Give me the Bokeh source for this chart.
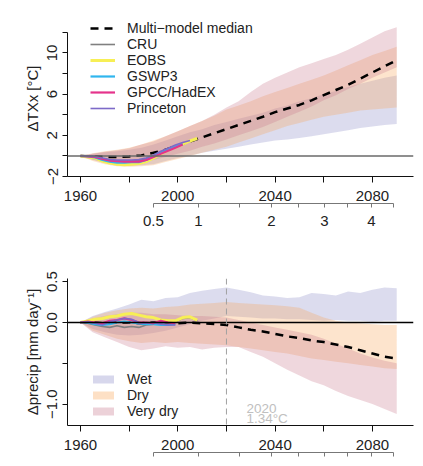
from bokeh.plotting import figure
from bokeh.models import (Range1d, Span, Label, Legend, LegendItem, FixedTicker,
                          LinearAxis, CustomJSTickFormatter)
from bokeh.layouts import column
from bokeh.embed import file_html
from bokeh.resources import INLINE

FONT = "Liberation Sans"

# ---------------- data ----------------
years = list(range(1960, 2091, 5))

# panel (a): TXx change [°C]
median_a = [0.0, -0.05, -0.1, -0.1, -0.05, 0.05, 0.3, 0.6, 1.0, 1.4, 1.8, 2.2, 2.6, 3.0, 3.4,
            3.8, 4.25, 4.6, 4.95, 5.4, 5.9, 6.4, 6.9, 7.5, 8.1, 8.7, 9.3]
wet_lo_a = [0, -0.4, -0.7, -0.9, -0.95, -0.9, -0.8, -0.5, -0.2, 0.05, 0.3, 0.5, 0.7, 0.9, 1.1,
            1.3, 1.5, 1.6, 1.75, 1.9, 2.1, 2.3, 2.5, 2.7, 2.85, 3.0, 3.1]
wet_hi_a = [0, 0.2, 0.35, 0.45, 0.6, 0.8, 1.1, 1.5, 1.9, 2.3, 2.6, 3.0, 3.3, 3.6, 3.9,
            4.2, 4.6, 4.9, 5.3, 5.6, 6.0, 6.3, 6.7, 7.0, 7.3, 7.6, 7.8]
dry_lo_a = [0, -0.5, -0.8, -1.0, -1.05, -1.0, -0.9, -0.6, -0.3, 0.0, 0.3, 0.6, 0.9, 1.3, 1.7,
            2.1, 2.5, 2.9, 3.2, 3.5, 3.8, 4.0, 4.2, 4.4, 4.5, 4.6, 4.7]
dry_hi_a = [0, 0.25, 0.45, 0.6, 0.8, 1.1, 1.5, 1.9, 2.4, 2.9, 3.4, 3.9, 4.5, 4.9, 5.3,
            5.8, 6.2, 6.6, 7.0, 7.4, 7.8, 8.3, 8.8, 9.3, 9.8, 10.2, 10.6]
vdry_lo_a = [0, -0.35, -0.6, -0.75, -0.8, -0.7, -0.4, -0.1, 0.2, 0.5, 0.9, 1.2, 1.6, 2.0, 2.4,
             2.8, 3.3, 3.8, 4.3, 4.8, 5.4, 5.9, 6.5, 7.0, 7.6, 8.1, 8.6]
vdry_hi_a = [0, 0.2, 0.4, 0.55, 0.75, 1.1, 1.4, 1.9, 2.4, 2.9, 3.4, 4.0, 4.7, 5.3, 6.2,
             7.0, 7.6, 8.1, 8.6, 9.0, 9.4, 9.8, 10.3, 10.9, 11.5, 12.1, 12.5]

# panel (b): precipitation change [mm/day]
median_b = [0, 0, -0.01, 0.0, 0.0, -0.01, 0.0, 0.0, -0.01, 0.0, -0.01, -0.02, -0.03, -0.06, -0.09,
            -0.11, -0.14, -0.17, -0.19, -0.22, -0.24, -0.27, -0.3, -0.34, -0.38, -0.42, -0.44]
wet_hi_b = [0, 0.08, 0.13, 0.17, 0.22, 0.28, 0.26, 0.3, 0.31, 0.36, 0.39, 0.41, 0.43, 0.4, 0.37,
            0.33, 0.32, 0.3, 0.31, 0.36, 0.35, 0.33, 0.38, 0.36, 0.4, 0.43, 0.42]
wet_lo_b = [0, -0.08, -0.12, -0.15, -0.16, -0.15, -0.13, -0.1, -0.06, -0.02, 0.02, 0.05, 0.08, 0.07, 0.06,
            0.05, 0.05, 0.04, 0.04, 0.03, 0.02, 0.03, 0.02, 0.02, 0.01, 0.02, 0.02]
dry_hi_b = [0, 0.07, 0.12, 0.15, 0.17, 0.18, 0.17, 0.19, 0.2, 0.22, 0.23, 0.24, 0.25, 0.24, 0.23,
            0.22, 0.21, 0.2, 0.18, 0.12, 0.06, 0.02, 0.0, -0.01, -0.02, -0.03, -0.03]
dry_lo_b = [0, -0.1, -0.15, -0.2, -0.23, -0.25, -0.24, -0.25, -0.24, -0.25, -0.26, -0.27, -0.28, -0.3, -0.32,
            -0.34, -0.36, -0.38, -0.41, -0.44, -0.46, -0.48, -0.5, -0.52, -0.54, -0.56, -0.57]
vdry_hi_b = [0, 0.05, 0.08, 0.1, 0.12, 0.12, 0.1, 0.1, 0.09, 0.08, 0.08, 0.07, 0.06, 0.03, 0.0,
             -0.03, -0.06, -0.09, -0.12, -0.15, -0.2, -0.26, -0.32, -0.38, -0.43, -0.47, -0.5]
vdry_lo_b = [0, -0.12, -0.18, -0.24, -0.3, -0.34, -0.32, -0.29, -0.31, -0.3, -0.33, -0.31, -0.3, -0.3, -0.36,
             -0.42, -0.5, -0.58, -0.65, -0.72, -0.77, -0.84, -0.9, -0.95, -1.0, -1.06, -1.12]

# observations
obs_years = [1960, 1963, 1966, 1969, 1972, 1975, 1978, 1981, 1984, 1987, 1990, 1993, 1996, 1999, 2002, 2005, 2008]
obs_a = {
    "CRU":        [0, -0.05, -0.1, -0.3, -0.4, -0.5, -0.5, -0.5, -0.45, -0.3, 0.0, 0.35, 0.65, 0.95, 1.2, 1.45, 1.6],
    "EOBS":       [0, -0.1, -0.2, -0.5, -0.7, -0.8, -0.85, -0.8, -0.75, -0.55, -0.2, 0.2, 0.55, 0.85, 1.15, 1.45, 1.7],
    "GSWP3":      [0, -0.05, -0.15, -0.4, -0.55, -0.65, -0.65, -0.6, -0.6, -0.4, -0.05, 0.3, 0.6, 0.9, 1.15],
    "GPCC/HadEX": [0, -0.05, -0.1, -0.3, -0.45, -0.5, -0.55, -0.55, -0.55, -0.4, -0.1, 0.2, 0.5, 0.8, 1.1],
    "Princeton":  [0, 0, -0.05, -0.2, -0.35, -0.4, -0.4, -0.4, -0.35, -0.2, 0.1, 0.45, 0.75, 1.05, 1.3, 1.5],
}
obs_b = {
    "CRU":        [0, -0.01, -0.03, -0.05, -0.06, -0.04, -0.06, -0.05, -0.06, -0.03, -0.02, -0.01, 0.0, 0.01, 0.05, 0.06, 0.02],
    "EOBS":       [0, 0.02, 0.04, 0.05, 0.07, 0.08, 0.1, 0.11, 0.09, 0.07, 0.06, 0.03, 0.02, 0.02, 0.06, 0.07, 0.03],
    "GSWP3":      [0, 0.0, -0.02, -0.03, -0.02, 0.0, 0.01, 0.0, -0.01, -0.02, -0.02, -0.03, -0.03, -0.02],
    "GPCC/HadEX": [0, 0.01, 0.0, -0.01, 0.02, 0.03, 0.05, 0.03, 0.0, 0.0, -0.01, 0.02, 0.0, -0.01],
    "Princeton":  [0, 0.01, -0.01, -0.03, 0.01, 0.03, 0.05, 0.04, 0.0, -0.01, 0.0, -0.02, -0.03, -0.03],
}
obs_colors = {"CRU": "#808080", "EOBS": "#f7ef55", "GSWP3": "#2fb6ee",
              "GPCC/HadEX": "#e5338b", "Princeton": "#7d6ac8"}
obs_widths = {"CRU": 1.6, "EOBS": 3.0, "GSWP3": 2.2, "GPCC/HadEX": 2.2, "Princeton": 1.6}

band_names = ["Wet", "Dry", "Very dry"]
band_colors = {"Wet": "#8c8cc8", "Dry": "#f9a55a", "Very dry": "#c97a8f"}
BAND_ALPHA = 0.3

# axis ticks
year_ticks = [1960, 1980, 2000, 2020, 2040, 2060, 2080]
year_labels = ["1960", "", "2000", "", "2040", "", "2080"]
tglob_years = [1990.0, 2008.5, 2025.3, 2038.5, 2049.6, 2060.3, 2069.7, 2079.6, 2088.6]
tglob_labels = ["0.5", "1", "", "2", "", "3", "", "4", ""]
ya_ticks = [-2, 0, 2, 4, 6, 8, 10, 12]
ya_labels = ["\u22122", "", "2", "", "6", "", "10", ""]
yb_ticks = [-1.0, -0.5, 0.0, 0.5]
yb_labels = ["\u22121.0", "", "0.0", "0.5"]

X0, X1 = 1954.66, 2096.9


def fmt(tick_vals, tick_labels):
    return CustomJSTickFormatter(args=dict(tv=tick_vals, tl=tick_labels), code="""
        let best = -1, bd = 1e9;
        for (let i = 0; i < tv.length; i++) {
            const d = Math.abs(tv[i] - tick);
            if (d < bd) { bd = d; best = i; }
        }
        return (best >= 0 && bd < 1e-6) ? tl[best] : "";
    """)


def clear_bg(ax):
    props = ax.properties()
    if "background_fill_color" in props:
        ax.background_fill_color = None
    if "background_fill_alpha" in props:
        ax.background_fill_alpha = 0


def base_axes(p, yticks, ylabels, ylabel):
    p.xgrid.visible = False
    p.ygrid.visible = False
    p.outline_line_color = None
    xa = p.xaxis[0]
    xa.ticker = FixedTicker(ticks=year_ticks)
    xa.formatter = fmt(year_ticks, year_labels)
    xa.major_tick_out = 6
    xa.major_tick_in = 0
    xa.minor_tick_line_color = None
    xa.major_label_standoff = 8
    xa.major_label_text_font = FONT
    xa.major_label_text_font_size = "15px"
    xa.major_label_text_color = "#222222"
    xa.axis_line_color = "#111111"
    xa.major_tick_line_color = "#111111"
    clear_bg(xa)
    ya = p.yaxis[0]
    ya.ticker = FixedTicker(ticks=yticks)
    ya.formatter = fmt(yticks, ylabels)
    ya.major_tick_out = 5
    ya.major_tick_in = 0
    ya.minor_tick_line_color = None
    ya.major_label_orientation = "vertical"
    ya.major_label_standoff = 5
    ya.major_label_text_font = FONT
    ya.major_label_text_font_size = "15px"
    ya.major_label_text_color = "#222222"
    ya.axis_line_color = "#111111"
    ya.major_tick_line_color = "#111111"
    ya.axis_label = ylabel
    ya.axis_label_text_font = FONT
    ya.axis_label_text_font_size = "15px"
    ya.axis_label_text_font_style = "normal"
    ya.axis_label_text_color = "#222222"
    ya.axis_label_standoff = 4
    clear_bg(ya)


def tglob_axis(p, show_labels=True):
    ax = LinearAxis(ticker=FixedTicker(ticks=tglob_years),
                    formatter=fmt(tglob_years, tglob_labels if show_labels else [""] * len(tglob_labels)),
                    bounds=(tglob_years[0], tglob_years[-1]))
    ax.major_tick_out = 4
    ax.major_tick_in = 0
    ax.minor_tick_line_color = None
    ax.axis_line_color = "#777777"
    ax.major_tick_line_color = "#777777"
    ax.major_label_text_font = FONT
    ax.major_label_text_font_size = "15px" if show_labels else "1px"
    ax.major_label_standoff = 8 if show_labels else 0
    ax.major_label_text_color = "#222222"
    clear_bg(ax)
    p.add_layout(ax, "below")


def bands(p, lo_hi):
    for name in band_names:
        lo, hi = lo_hi[name]
        p.varea(x=years, y1=lo, y2=hi, fill_color=band_colors[name], fill_alpha=BAND_ALPHA)


# ---------------- panel (a) ----------------
pa = figure(width=423, height=240, x_range=Range1d(X0, X1), y_range=Range1d(-2, 13.15),
            output_backend="svg", toolbar_location=None,
            min_border_left=67, min_border_right=10, min_border_top=20, min_border_bottom=64)
base_axes(pa, ya_ticks, ya_labels, "\u0394TXx [\u00b0C]")
pa.yaxis[0].bounds = (-2, 12)
tglob_axis(pa, True)

bands(pa, {"Wet": (wet_lo_a, wet_hi_a), "Dry": (dry_lo_a, dry_hi_a), "Very dry": (vdry_lo_a, vdry_hi_a)})
pa.add_layout(Span(location=0, dimension="width", line_color="#6a6a6a", line_width=1.5))
med_a = pa.line(years, median_a, line_color="black", line_width=2.5, line_dash="8 6")
items = [LegendItem(label="Multi\u2212model median", renderers=[med_a])]
for name, vals in obs_a.items():
    r = pa.line(obs_years[:len(vals)], vals, line_color=obs_colors[name], line_width=obs_widths[name])
    items.append(LegendItem(label=name, renderers=[r]))
leg_a = Legend(items=items, location=(23, 60), label_text_font=FONT, label_text_font_size="14px",
               label_text_color="#222222", label_height=16, glyph_height=16, glyph_width=25,
               spacing=0, padding=0, margin=0, label_standoff=12,
               background_fill_alpha=0, border_line_color=None)
pa.add_layout(leg_a)
pa.add_layout(Label(x=1943.6, y=13.92, text="(a)", text_font=FONT, text_font_size="15px",
                    text_font_style="bold", text_baseline="middle", text_color="#111111"))
pa.add_layout(Label(x=2087.4, y=-6.56, text="Tglob", level="overlay",
                    text_font=FONT, text_font_size="13px",
                    text_baseline="middle", text_color="#222222"))

# ---------------- panel (b) ----------------
pb = figure(width=423, height=226, x_range=Range1d(X0, X1), y_range=Range1d(-1.262, 0.539),
            output_backend="svg", toolbar_location=None,
            min_border_left=67, min_border_right=10, min_border_top=38, min_border_bottom=41)
base_axes(pb, yb_ticks, yb_labels, "\u0394precip [mm day\u207b\u00b9]")
tglob_axis(pb, False)

bands(pb, {"Wet": (wet_lo_b, wet_hi_b), "Dry": (dry_lo_b, dry_hi_b), "Very dry": (vdry_lo_b, vdry_hi_b)})
pb.add_layout(Span(location=0, dimension="width", line_color="black", line_width=1.3))
pb.add_layout(Span(location=2020, dimension="height", line_color="#a0a0a0", line_width=1, line_dash="6 4"))
pb.line(years, median_b, line_color="black", line_width=2.5, line_dash="8 6")
for name, vals in obs_b.items():
    pb.line(obs_years[:len(vals)], vals, line_color=obs_colors[name], line_width=obs_widths[name])

items_b = []
for name in band_names:
    r = pb.line([float("nan")], [float("nan")], line_color=band_colors[name],
                line_alpha=BAND_ALPHA + 0.05, line_width=8, line_cap="round")
    items_b.append(LegendItem(label=name, renderers=[r]))
leg_b = Legend(items=items_b, location=(26, 6), label_text_font=FONT, label_text_font_size="14px",
               label_text_color="#222222", label_height=16, glyph_height=16, glyph_width=21,
               spacing=0, padding=0, margin=0, label_standoff=13,
               background_fill_alpha=0, border_line_color=None)
pb.add_layout(leg_b)
pb.add_layout(Label(x=1943.6, y=0.858, text="(b)", text_font=FONT, text_font_size="15px",
                    text_font_style="bold", text_baseline="middle", text_color="#111111"))
pb.add_layout(Label(x=2028.2, y=-1.05, text="2020", text_font=FONT, text_font_size="13.5px",
                    text_baseline="alphabetic", text_color="#c0c0c0"))
pb.add_layout(Label(x=2028.2, y=-1.18, text="1.34\u00b0C", text_font=FONT, text_font_size="13.5px",
                    text_baseline="alphabetic", text_color="#c0c0c0"))

layout = column(pa, pb, spacing=0)
open("out.html", "w").write(file_html(layout, INLINE))
